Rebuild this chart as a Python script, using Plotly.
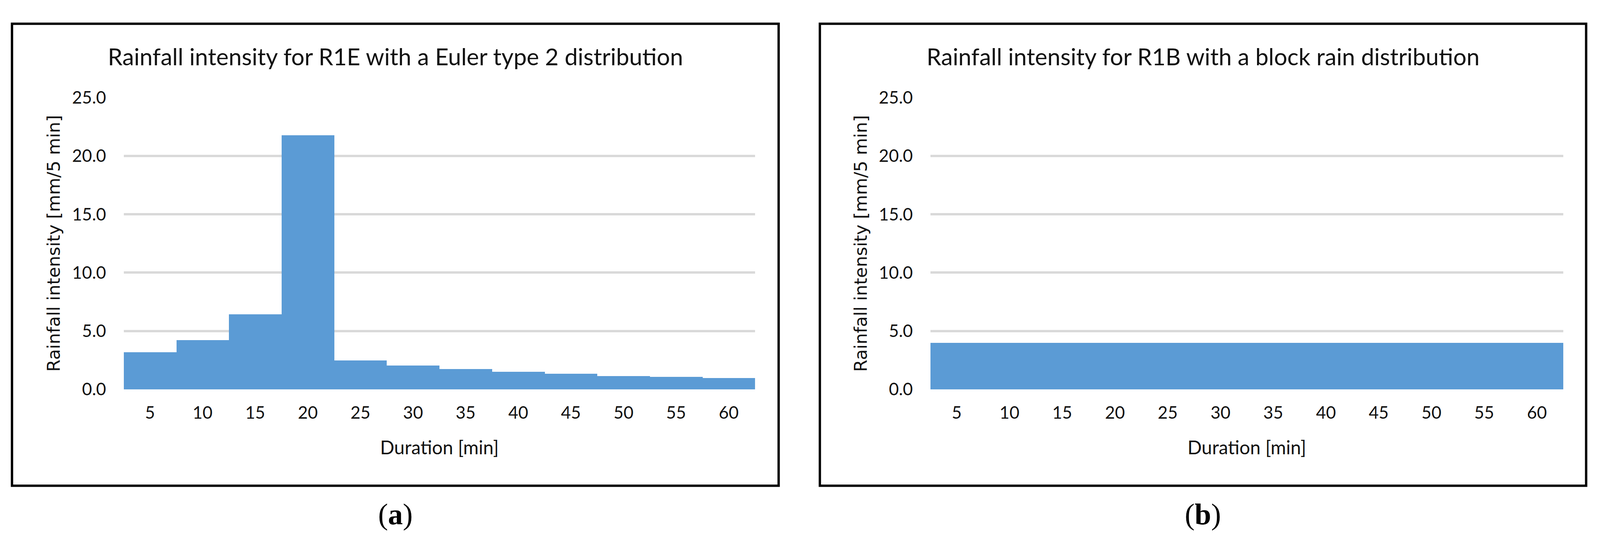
import plotly.graph_objects as go

# ---- data ----
durations = [5, 10, 15, 20, 25, 30, 35, 40, 45, 50, 55, 60]
euler_type2 = [3.2, 4.25, 6.45, 21.8, 2.5, 2.05, 1.77, 1.52, 1.35, 1.17, 1.09, 0.98]
block_rain = [4.0, 4.0, 4.0, 4.0, 4.0, 4.0, 4.0, 4.0, 4.0, 4.0, 4.0, 4.0]
y_ticks = [0, 5, 10, 15, 20, 25]
title_a = "Rainfall intensity for R1E with a Euler type 2 distribution"
title_b = "Rainfall intensity for R1B with a block rain distribution"
x_title = "Duration [min]"
y_title = "Rainfall intensity [mm/5 min]"
panel_labels = ["a", "b"]

W, H = 4270, 1412   # reference geometry; layout is placed in paper fractions of it
BAR = "#5B9BD5"
GRID = "#D9D9D9"
TXT = "#111111"

def px(x):
    return x / W

def py(y):
    return 1 - y / H

fig = go.Figure()
fig.add_trace(go.Bar(x=durations, y=euler_type2, width=5, marker=dict(color=BAR, line=dict(width=0)),
                     xaxis="x", yaxis="y", showlegend=False, hoverinfo="skip"))
fig.add_trace(go.Bar(x=durations, y=block_rain, width=5, marker=dict(color=BAR, line=dict(width=0)),
                     xaxis="x2", yaxis="y2", showlegend=False, hoverinfo="skip"))

panels = [
    dict(plot=(330, 2015), frame=(32, 2078), title=title_a),
    dict(plot=(2483, 4172), frame=(2188, 4233), title=title_b),
]
plot_top, plot_bot = 230, 1005

xaxis_common = dict(
    range=[2.5, 62.5], tickvals=durations, ticktext=[str(d) for d in durations],
    showgrid=False, zeroline=False, showline=False, ticks="",
    tickfont=dict(family="Lato", size=44, color=TXT), ticklabelstandoff=30,
)
yaxis_common = dict(
    range=[0, 25], tickvals=y_ticks, tickformat=".1f",
    showgrid=True, gridcolor=GRID, gridwidth=6, zeroline=False, showline=False, ticks="",
    tickfont=dict(family="Lato", size=44, color=TXT), ticklabelstandoff=44,
)

layout = dict(autosize=True, margin=dict(l=0, r=0, t=0, b=0, pad=0),
              paper_bgcolor="white", plot_bgcolor="white", bargap=0, showlegend=False)

for i, p in enumerate(panels):
    sfx = "" if i == 0 else str(i + 1)
    xa = dict(xaxis_common)
    xa["domain"] = [px(p["plot"][0]), px(p["plot"][1])]
    xa["anchor"] = "y" + sfx
    ya = dict(yaxis_common)
    ya["domain"] = [py(plot_bot), py(plot_top)]
    ya["anchor"] = "x" + sfx
    layout["xaxis" + sfx] = xa
    layout["yaxis" + sfx] = ya

fig.update_layout(**layout)

shapes = []
annotations = []
for i, p in enumerate(panels):
    f0, f1 = p["frame"]
    shapes.append(dict(type="rect", xref="paper", yref="paper",
                       x0=px(f0), x1=px(f1), y0=py(1261), y1=py(34),
                       line=dict(color="black", width=6), fillcolor="rgba(0,0,0,0)"))
    fc = (f0 + f1) / 2
    pc = (p["plot"][0] + p["plot"][1]) / 2
    annotations.append(dict(text=p["title"], xref="paper", yref="paper",
                            x=px(fc), y=py(120), xanchor="center", yanchor="middle",
                            showarrow=False, font=dict(family="Lato", size=60, color=TXT)))
    annotations.append(dict(text=x_title, xref="paper", yref="paper",
                            x=px(pc), y=py(1158), xanchor="center", yanchor="middle",
                            showarrow=False, font=dict(family="Lato", size=48, color=TXT)))
    annotations.append(dict(text=y_title, xref="paper", yref="paper",
                            x=px(p["plot"][0] - 186), y=py((plot_top + plot_bot) / 2),
                            xanchor="center", yanchor="middle", textangle=-90,
                            showarrow=False, font=dict(family="DejaVu Sans", size=45, color=TXT)))
    annotations.append(dict(text="(<b>" + panel_labels[i] + "</b>)", xref="paper", yref="paper",
                            x=px(fc), y=py(1337), xanchor="center", yanchor="middle",
                            showarrow=False, font=dict(family="Liberation Serif", size=76, color="black")))

fig.update_layout(shapes=shapes, annotations=annotations)

post = """
var gd = document.getElementById('{plot_id}');
document.documentElement.style.margin = '0px';
document.body.style.margin = '0px';
document.body.style.overflow = 'hidden';
gd.style.width = '100vw';
gd.style.height = '100vh';
Plotly.Plots.resize(gd);
"""
fig.write_html("out.html", default_width="calc(100vw - 16px)", default_height="calc(100vh - 16px)",
               config={"responsive": True, "displayModeBar": False}, post_script=post)
